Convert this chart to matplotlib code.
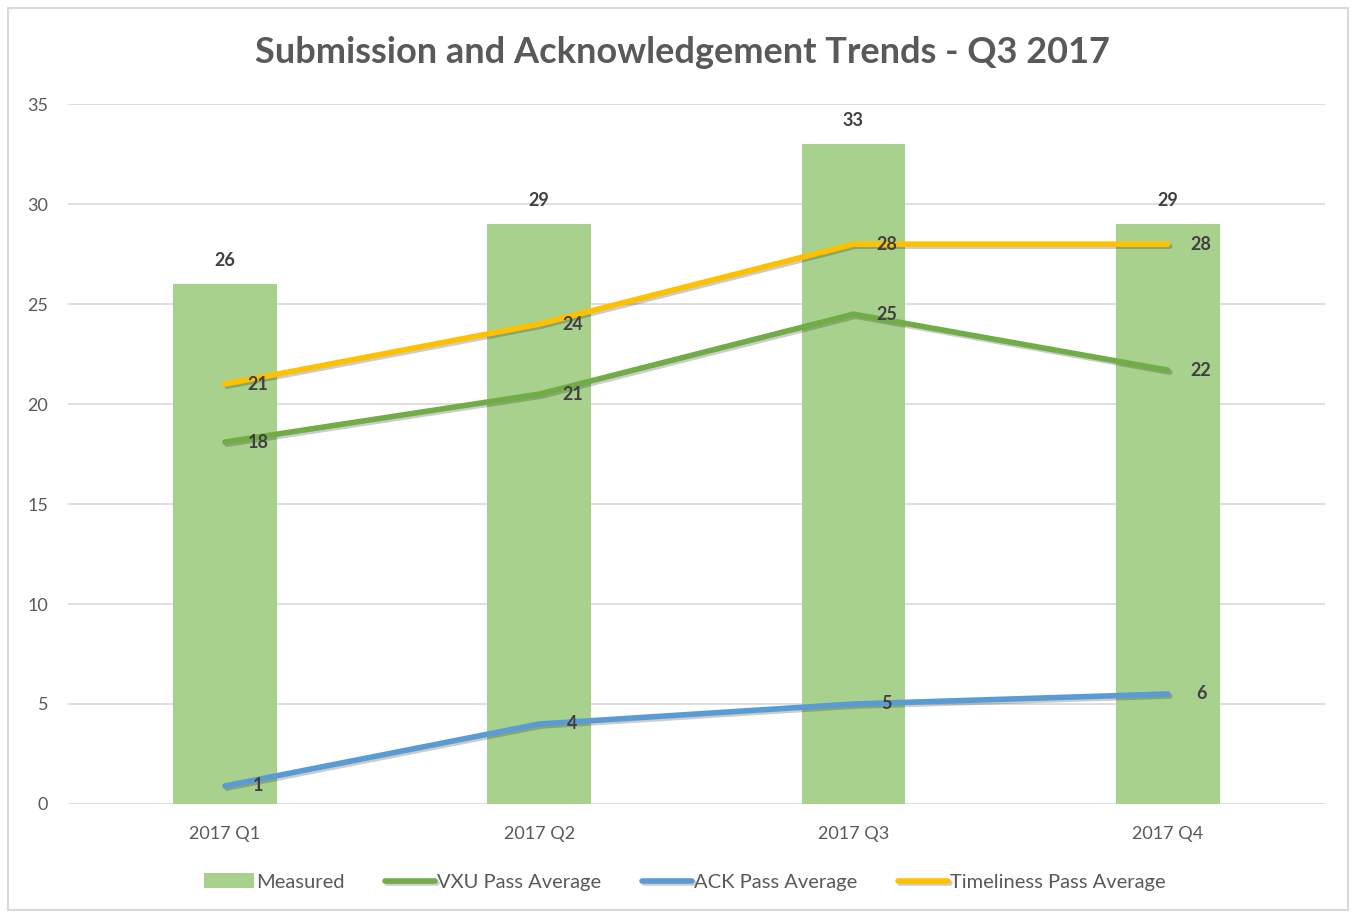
import math
import matplotlib
matplotlib.use("Agg")
import matplotlib.pyplot as plt
import matplotlib.patheffects as pe
from matplotlib.patches import Rectangle

quarters = ["2017 Q1", "2017 Q2", "2017 Q3", "2017 Q4"]
measured = [26, 29, 33, 29]
vxu_pass = [18.1, 20.5, 24.5, 21.7]
ack_pass = [0.9, 4.0, 5.0, 5.5]
timeliness_pass = [21.0, 24.0, 28.0, 28.0]

plt.rcParams["font.family"] = ["Lato", "DejaVu Sans"]

fig = plt.figure(figsize=(13.56, 9.14), dpi=100)
ax = fig.add_axes([0.050, 0.1204, 0.927, 0.7656])

# chart border
fig.patches.append(Rectangle((0.006, 0.004), 0.988, 0.987, transform=fig.transFigure,
                             fill=False, edgecolor="#D9D9D9", linewidth=1.5))

x = range(len(quarters))
bars = ax.bar(x, measured, width=0.33, color="#A9D18E", zorder=2, label="Measured")

shadow = [pe.SimpleLineShadow(offset=(1.5, -1.5), alpha=0.2, shadow_color="black"), pe.Normal()]
series = [
    (vxu_pass, "#70AD47", "VXU Pass Average"),
    (ack_pass, "#5B9BD5", "ACK Pass Average"),
    (timeliness_pass, "#FFC000", "Timeliness Pass Average"),
]
for vals, col, name in series:
    ax.plot(x, vals, color=col, linewidth=4, solid_capstyle="round", zorder=3,
            path_effects=shadow, label=name)
    for i, v in enumerate(vals):
        ax.annotate(str(math.floor(v + 0.5)), (i, v), xytext=(24, 0), textcoords="offset points",
                    ha="center", va="center", fontsize=13, fontweight="bold",
                    color="#404040", zorder=4)

for i, v in enumerate(measured):
    ax.annotate(str(v), (i, v), xytext=(0, 17), textcoords="offset points",
                ha="center", va="center", fontsize=13, fontweight="bold", color="#404040")

ax.set_xlim(-0.5, 3.5)
ax.set_ylim(0, 35)
ax.set_yticks(range(0, 36, 5))
ax.set_xticks(list(x))
ax.set_xticklabels(quarters)
ax.grid(axis="y", color="#D9D9D9", linewidth=1.2, zorder=0)
ax.set_axisbelow(True)
for s in ax.spines.values():
    s.set_visible(False)
ax.tick_params(length=0, labelsize=13, colors="#595959")
ax.tick_params(axis="x", pad=16)
ax.tick_params(axis="y", pad=14)

fig.text(0.503, 0.943, "Submission and Acknowledgement Trends - Q3 2017", ha="center", va="center",
         fontsize=26, fontweight="bold", color="#595959")

handles, labels = ax.get_legend_handles_labels()
order = [3, 0, 1, 2]
fig.legend([handles[i] for i in order], [labels[i] for i in order],
           loc="center", bbox_to_anchor=(0.505, 0.035), ncol=4, frameon=False,
           fontsize=14.5, handlelength=2.5, handletextpad=0.1, columnspacing=2.0,
           labelcolor="#595959")

fig.savefig("out.png", dpi=100)
